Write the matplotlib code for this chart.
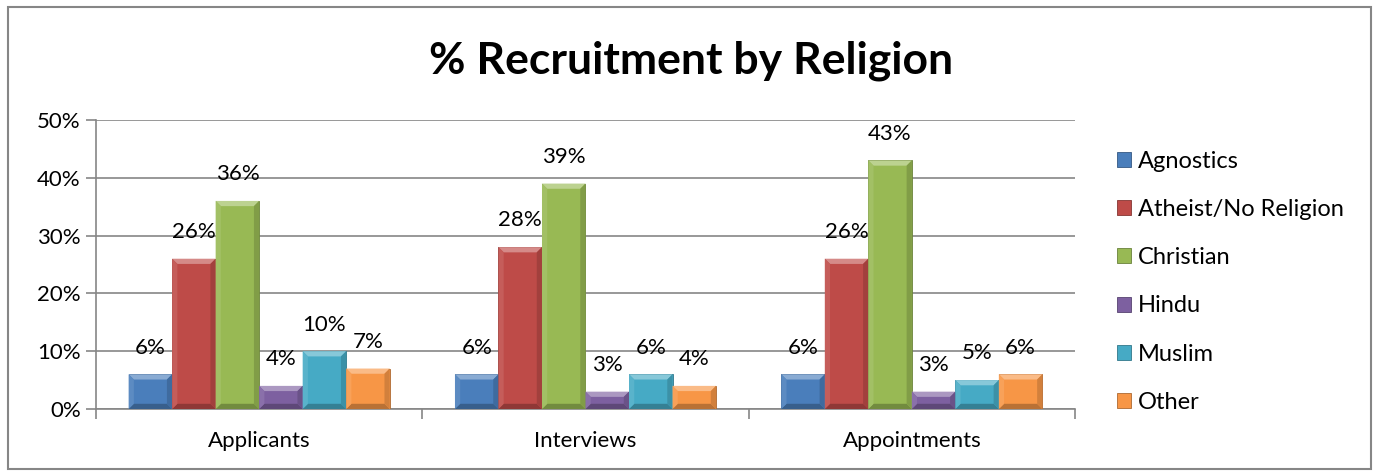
import numpy as np
import matplotlib.pyplot as plt
from matplotlib.patches import Polygon, Rectangle
from matplotlib.colors import to_rgb

plt.rcParams['font.family'] = ['Lato', 'DejaVu Sans']

# Recruitment shares by religion for each stage
stages = ['Applicants', 'Interviews', 'Appointments']
religions = ['Agnostics', 'Atheist/No Religion', 'Christian', 'Hindu', 'Muslim', 'Other']
agnostics = [0.06, 0.06, 0.06]
atheist = [0.26, 0.28, 0.26]
christian = [0.36, 0.39, 0.43]
hindu = [0.04, 0.03, 0.03]
muslim = [0.10, 0.06, 0.05]
other = [0.07, 0.04, 0.06]
series = [agnostics, atheist, christian, hindu, muslim, other]
colors = ['#4A7EBB', '#BE4B48', '#98B954', '#7D60A0', '#46AAC5', '#F79646']


def shade(c, f):
    r, g, b = to_rgb(c)
    if f >= 0:
        return (r + (1 - r) * f, g + (1 - g) * f, b + (1 - b) * f)
    return (r * (1 + f), g * (1 + f), b * (1 + f))


def bevel(ax, patch, color):
    # soft bevel: lighter top edge, darker lower edge and sides
    x0, y0 = patch.get_x(), patch.get_y()
    w, h = patch.get_width(), patch.get_height()
    x1, y1 = x0 + w, y0 + h
    dx = w * 0.12
    dy = min(0.009, h / 2)
    top = Polygon([(x0, y1), (x1, y1), (x1 - dx, y1 - dy), (x0 + dx, y1 - dy)],
                  closed=True, facecolor=shade(color, 0.35), edgecolor='none', zorder=4)
    bottom = Polygon([(x0, y0), (x1, y0), (x1 - dx, y0 + dy), (x0 + dx, y0 + dy)],
                     closed=True, facecolor=shade(color, -0.25), edgecolor='none', zorder=4)
    left = Polygon([(x0, y0), (x0, y1), (x0 + dx, y1 - dy), (x0 + dx, y0 + dy)],
                   closed=True, facecolor=shade(color, 0.1), edgecolor='none', zorder=4)
    right = Polygon([(x1, y0), (x1, y1), (x1 - dx, y1 - dy), (x1 - dx, y0 + dy)],
                    closed=True, facecolor=shade(color, -0.15), edgecolor='none', zorder=4)
    for p in (top, bottom, left, right):
        ax.add_patch(p)


fig = plt.figure(figsize=(13.74, 4.71), dpi=100)
fig.patches.append(Rectangle((0.006, 0.004), 0.992, 0.982, transform=fig.transFigure,
                             fill=False, edgecolor='#868686', linewidth=1.5))

ax = fig.add_axes([96 / 1374, 1 - 409 / 471, 979 / 1374, 289 / 471])

x = np.arange(len(stages))
n = len(series)
width = 0.8 / n
for i, (vals, c) in enumerate(zip(series, colors)):
    pos = x - 0.4 + width * (i + 0.5)
    bars = ax.bar(pos, vals, width=width, color=c, edgecolor=shade(c, -0.3),
                  linewidth=0.6, label=religions[i], zorder=3)
    for b, v in zip(bars, vals):
        bevel(ax, b, c)
        ax.annotate(f'{v:.0%}', (b.get_x() + b.get_width() / 2, v),
                    xytext=(0, 12), textcoords='offset points',
                    ha='center', va='bottom', fontsize=16, color='black', zorder=5)

ax.set_xlim(-0.5, len(stages) - 0.5)
ax.set_ylim(0, 0.5)
ax.set_yticks(np.arange(0, 0.51, 0.1))
ax.set_yticklabels([f'{t:.0%}' for t in np.arange(0, 0.51, 0.1)], fontsize=16)
ax.yaxis.grid(True, color='#868686', linewidth=1.2, zorder=0)
ax.set_axisbelow(True)

ax.set_xticks(x)
ax.set_xticklabels(stages, fontsize=16)
ax.set_xticks(np.arange(-0.5, len(stages), 1.0), minor=True)
ax.tick_params(axis='x', which='major', length=0, pad=16)
ax.tick_params(axis='x', which='minor', length=7, color='#868686', width=1.2)
ax.tick_params(axis='y', length=7, color='#868686', width=1.2, pad=4)

for s in ('top', 'right'):
    ax.spines[s].set_visible(False)
for s in ('left', 'bottom'):
    ax.spines[s].set_color('#868686')
    ax.spines[s].set_linewidth(1.2)

fig.text(691 / 1374, 1 - 61 / 471, '% Recruitment by Religion', ha='center', va='center',
         fontsize=32, fontweight='bold')

leg = ax.legend(loc='center left', bbox_to_anchor=(1.021, 0.44), frameon=False,
                fontsize=17, handlelength=0.6, handleheight=0.6, handletextpad=0.3,
                labelspacing=1.15)

fig.savefig('out.png', dpi=100)
